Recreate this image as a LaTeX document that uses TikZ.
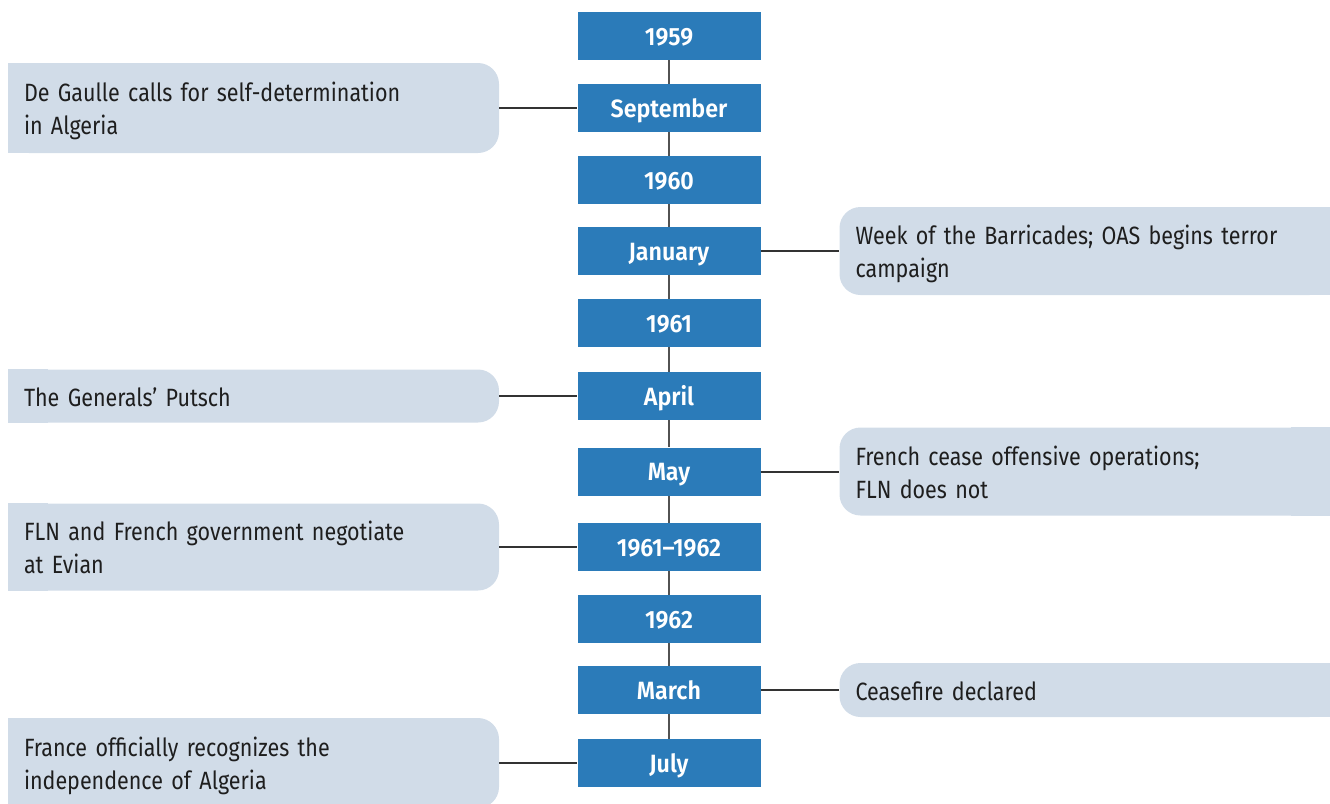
\documentclass[tikz,border=0pt]{standalone}
\usepackage{fontspec}
\usetikzlibrary{backgrounds}
\setmainfont{Fira Sans}
\newfontfamily\notefont[FakeStretch=0.86]{Fira Sans}
\newfontfamily\datefont[FakeStretch=0.93]{Fira Sans SemiBold}
\definecolor{dateblue}{HTML}{2B7BB9}
\definecolor{notefill}{HTML}{D1DCE8}
\definecolor{linkgray}{HTML}{333333}
\definecolor{notetext}{HTML}{1E1E1E}
\begin{document}
\begin{tikzpicture}[x=1pt,y=-1pt,
  datebox/.style={rectangle,fill=dateblue,minimum width=183pt,minimum height=48pt,
    inner sep=0pt,text height=19pt,text depth=1pt,text=white,
    font=\datefont\fontsize{25}{30}\selectfont},
  notebox/.style={rectangle,fill=notefill,rounded corners=21pt,minimum width=491pt,
    inner sep=0pt,text width=459pt,align=left,text=notetext,
    font=\notefont\fontsize{25}{33}\selectfont},
  onerow/.style={text height=22pt,text depth=2pt},
  tworow/.style={text height=22pt,text depth=35pt},
  patch/.style={fill=notefill},
  link/.style={draw=linkgray,line width=2pt},
  spine/.style={draw=linkgray!85,line width=1.6pt}]
\useasboundingbox (0,0) rectangle (1330,803);

% date column
\node[datebox] (d1959) at (669,36) {1959};
\node[datebox] (dsep)  at (669,108) {September};
\node[datebox] (d1960) at (669,180) {1960};
\node[datebox] (djan)  at (669,251) {January};
\node[datebox] (d1961) at (669,323) {1961};
\node[datebox] (dapr)  at (669,396) {April};
\node[datebox] (dmay)  at (669,471.5) {May};
\node[datebox] (d6162) at (669,547) {1961{\textendash}1962};
\node[datebox] (d1962) at (669,619) {1962};
\node[datebox] (dmar)  at (669,690) {March};
\node[datebox] (djul)  at (669,763) {July};

\foreach \a/\b in {d1959/dsep,dsep/d1960,d1960/djan,djan/d1961,d1961/dapr,
                   dapr/dmay,dmay/d6162,d6162/d1962,d1962/dmar,dmar/djul}
  \draw[spine] (\a.south) -- (\b.north);

% events
\node[notebox,tworow,minimum height=90pt] (eDG) at (253.5,108)
  {De Gaulle calls for self-determination\\in Algeria};
\node[notebox,tworow,minimum height=88pt] (eWB) at (1085,251)
  {Week of the Barricades; OAS begins terror\\campaign};
\node[notebox,onerow,minimum height=53pt] (eGP) at (253.5,396)
  {The Generals’ Putsch};
\node[notebox,tworow,minimum height=88pt] (eFC) at (1085,471.5)
  {French cease offensive operations;\\FLN does not};
\node[notebox,tworow,minimum height=87pt] (eFL) at (253.5,547)
  {FLN and French government negotiate\\at Evian};
\node[notebox,onerow,minimum height=54pt] (eCF) at (1085,690)
  {Ceasefire declared};
\node[notebox,tworow,minimum height=90pt] (eFR) at (253.5,763)
  {France officially recognizes the\\independence of Algeria};

% square outer sides of the event boxes
\begin{pgfonlayer}{background}
  \foreach \e in {eDG,eGP,eFL,eFR}
    \fill[patch] (\e.north west) rectangle ([xshift=40pt]\e.south west);
  \foreach \e in {eWB,eFC,eCF}
    \fill[patch] (\e.north east) rectangle ([xshift=-40pt]\e.south east);
\end{pgfonlayer}

% links
\draw[link] (eDG.east) -- (dsep.west);
\draw[link] (djan.east) -- (eWB.west);
\draw[link] (eGP.east) -- (dapr.west);
\draw[link] (dmay.east) -- (eFC.west);
\draw[link] (eFL.east) -- (d6162.west);
\draw[link] (dmar.east) -- (eCF.west);
\draw[link] (eFR.east) -- (djul.west);
\end{tikzpicture}
\end{document}
